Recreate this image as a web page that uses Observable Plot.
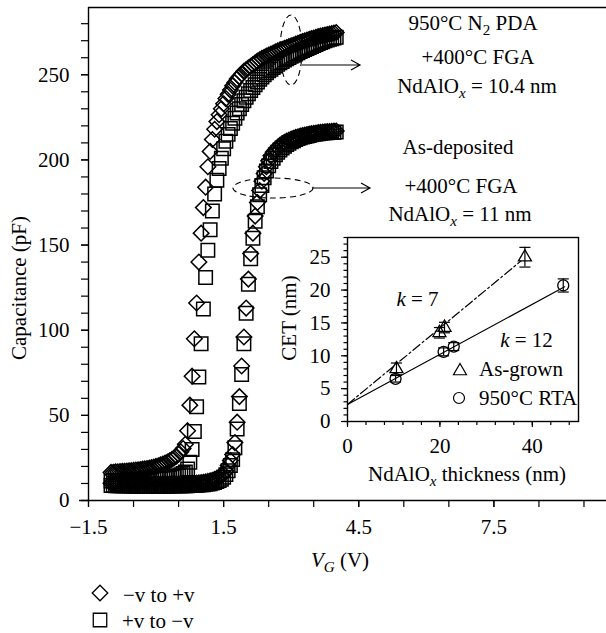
<!DOCTYPE html>
<html><head><meta charset="utf-8">
<script src="https://cdn.jsdelivr.net/npm/d3@7"></script>
<script src="https://cdn.jsdelivr.net/npm/@observablehq/plot@0.6"></script>
<style>
html,body{margin:0;padding:0;background:#fff;}
#wrap{position:relative;width:606px;height:633px;overflow:hidden;}
#wrap svg{position:absolute;}
</style></head><body><div id="wrap"></div>
<script>
// ---- main C–V data (gate voltage, V) ----
const vGate = [
 -1.00,-0.95,-0.90,-0.85,-0.80,-0.75,-0.70,-0.65,-0.60,-0.55,-0.50,-0.45,-0.40,-0.35,-0.30,-0.25,-0.20,-0.15,-0.10,-0.05,
 0.00,0.05,0.10,0.15,0.20,0.25,0.30,0.35,0.40,0.45,0.50,0.55,0.60,0.65,0.70,0.75,0.80,0.85,0.90,0.95,
 1.00,1.05,1.10,1.15,1.20,1.25,1.30,1.35,1.40,1.45,1.50,1.55,1.60,1.65,1.70,1.75,1.80,1.85,1.90,1.95,
 2.00,2.05,2.10,2.15,2.20,2.25,2.30,2.35,2.40,2.45,2.50,2.55,2.60,2.65,2.70,2.75,2.80,2.85,2.90,2.95,
 3.00,3.05,3.10,3.15,3.20,3.25,3.30,3.35,3.40,3.45,3.50,3.55,3.60,3.65,3.70,3.75,3.80,3.85,3.90,3.95,4.00];
// 950°C N2 PDA + 400°C FGA, sweep −v to +v (pF)
const pdaUp = [
 16.5,16.6,16.8,16.9,17.0,17.1,17.2,17.3,17.4,17.5,17.7,17.9,18.0,18.2,18.4,18.6,18.8,19.0,19.3,19.6,
 20.0,20.4,20.9,21.4,22.0,22.6,23.3,24.1,25.0,26.0,27.2,28.6,30.5,33,41,56,73,95,116,140,
 157,172,184,196,205,212,218,222.5,226.5,230,233,236,238.5,241,243.5,245.5,247.5,249,250.5,252,
 253,254,255,256,257,258,258.8,259.6,260.3,261,261.6,262.2,262.8,263.4,264,264.5,265,265.5,266,266.5,
 267,267.5,268,268.5,269,269.5,270,270.4,270.8,271.2,271.6,272,272.4,272.7,273,273.3,273.6,273.9,274.2,274.5,274.8];
// 950°C N2 PDA, sweep +v to −v
const pdaDown = [
 11.5,11.5,11.6,11.6,11.7,11.7,11.8,11.8,11.9,11.9,12.0,12.0,12.1,12.1,12.2,12.2,12.3,12.3,12.4,12.5,
 12.6,12.7,12.8,12.9,13.0,13.2,13.4,13.6,13.9,14.2,14.6,15.1,15.8,16.8,18.5,22.5,30,40.5,55,72.5,
 92,112.5,131,147,159,170,180,188,195,201,206.5,211,215,218.5,221.5,224.5,227.5,230,232.5,234.7,
 236.8,238.8,240.7,242.5,244.2,245.8,247.3,248.7,250,251.2,252.3,253.3,254.3,255.2,256.1,257,257.8,258.6,259.4,260.1,
 260.8,261.5,262.2,262.9,263.6,264.2,264.8,265.4,266,266.6,267.2,267.8,268.4,268.9,269.4,269.9,270.4,270.8,271.2,271.6,272];
// As-deposited + 400°C FGA, sweep −v to +v
const asdUp = [
 10.2,10.1,10.1,10.0,10.0,10.0,9.9,9.9,9.9,9.8,9.8,9.8,9.8,9.7,9.7,9.7,9.7,9.7,9.7,9.7,
 9.7,9.7,9.7,9.7,9.7,9.7,9.8,9.8,9.8,9.8,9.9,9.9,9.9,10.0,10.0,10.1,10.1,10.2,10.3,10.4,
 10.5,10.7,10.9,11.2,11.5,11.9,12.4,13.0,13.7,14.5,15.6,17.5,20.5,23.5,27,34,46,61,79,96,
 113,130,145,157,167,175,182,187.5,192,196,199.5,202.5,204.5,206,207.4,208.6,209.6,210.3,211,211.6,
 212.2,212.7,213.2,213.6,214,214.3,214.6,214.9,215.2,215.4,215.6,215.8,216,216.2,216.4,216.5,216.6,216.7,216.8,216.9,217];
// As-deposited, sweep +v to −v
const asdDown = [
 8.8,8.8,8.7,8.7,8.7,8.6,8.6,8.6,8.6,8.5,8.5,8.5,8.5,8.5,8.5,8.5,8.5,8.5,8.5,8.5,
 8.5,8.5,8.5,8.5,8.5,8.5,8.5,8.5,8.6,8.6,8.6,8.6,8.7,8.7,8.7,8.8,8.8,8.9,9.0,9.1,
 9.2,9.3,9.5,9.7,9.9,10.2,10.6,11.1,11.7,12.5,13.6,15.2,17.5,20.5,24,31,42,57,74,92,
 110,127,142,154,164,172.5,179.5,185,189.5,193.5,196.5,199,201,203,204.5,205.8,207,208,209,209.8,
 210.6,211.3,212,212.5,213,213.4,213.8,214.1,214.4,214.7,215,215.2,215.4,215.6,215.8,215.9,216,216.1,216.2,216.3,216.4];

const xTickValues = [-1.5, 1.5, 4.5, 7.5];
const xTickLabels = ["\u22121.5", "1.5", "4.5", "7.5"];
const xMinorTicks = [-1.5,-0.5,0.5,1.5,2.5,3.5,4.5,5.5,6.5,7.5,8.5,9.5];
const yTickValues = [0, 50, 100, 150, 200, 250];
const yMinorTicks = [0,10,20,30,40,50,60,70,80,90,100,110,120,130,140,150,160,170,180,190,200,210,220,230,240,250,260,270,280];

// ---- inset data: CET vs NdAlOx thickness ----
const thickGrown = [10.6, 19.9, 21.0, 38.4];
const cetGrown   = [8.0, 13.5, 14.3, 25.0];
const errGrown   = [0.9, 0.8, 0.8, 1.5];
const thickRTA   = [10.4, 20.8, 23.0, 46.7];
const cetRTA     = [6.5, 10.6, 11.4, 20.7];
const errRTA     = [0.5, 0.6, 0.6, 1.0];
const fitThickRTA = [0, 47];
const fitCetRTA   = [2.6, 20.5];
const fitThickGrown = [0, 37.5];
const fitCetGrown   = [2.6, 24.4];
const insetXTicks = [0, 20, 40];
const insetXMinor = [0,4,8,12,16,20,24,28,32,36,40,44,48];
const insetYTicks = [0, 5, 10, 15, 20, 25];
const insetYMinor = [0,1,2,3,4,5,6,7,8,9,10,11,12,13,14,15,16,17,18,19,20,21,22,23,24,25,26,27,28];

const FONT = "Liberation Serif";
const FS = 21;
const wrap = document.getElementById("wrap");

const rows = (vals) => vGate.map((v, i) => ({v, c: vals[i]}));
const dotStyle = {x: "v", y: "c", stroke: "black", fill: "none", strokeWidth: 1.5};

const main = Plot.plot({
  width: 606, height: 575,
  marginLeft: 88, marginRight: 0, marginTop: 7, marginBottom: 75,
  x: {domain: [-1.5, 10], label: null},
  y: {domain: [0, 289.5], label: null},
  style: {fontFamily: FONT, fontSize: FS + "px", background: "transparent", overflow: "visible", color: "black"},
  marks: [
    Plot.axisX({ticks: xMinorTicks, tickSize: 7, strokeWidth: 1.2, tickFormat: () => "", label: null}),
    Plot.axisX({ticks: xTickValues, tickSize: 7, tickPadding: 12, strokeWidth: 1.2, label: null,
      tickFormat: d => xTickLabels[xTickValues.indexOf(d)]}),
    Plot.axisY({ticks: yMinorTicks, tickSize: 7, strokeWidth: 1.2, tickFormat: () => "", label: null}),
    Plot.axisY({ticks: yTickValues, tickSize: 7, tickPadding: 12, strokeWidth: 1.2, label: null}),
    Plot.ruleY([0], {x1: -1.7, x2: 10, strokeWidth: 1.4}),
    Plot.ruleY([289.5], {x1: -1.5, x2: 10, strokeWidth: 1.4}),
    Plot.ruleX([-1.5], {y1: 0, y2: 289.5, strokeWidth: 1.4}),
    Plot.dot(rows(asdDown), {...dotStyle, symbol: "square", r: 7.6}),
    Plot.dot(rows(asdUp), {...dotStyle, symbol: "diamond2", r: 7}),
    Plot.dot(rows(pdaDown), {...dotStyle, symbol: "square", r: 7.6}),
    Plot.dot(rows(pdaUp), {...dotStyle, symbol: "diamond2", r: 7})
  ]
});
main.style.left = "0px"; main.style.top = "0px";
wrap.appendChild(main);

function addText(sel, x, y, parts, opts = {}) {
  const t = sel.append("text")
    .attr("x", x).attr("y", y)
    .attr("text-anchor", opts.anchor || "middle")
    .attr("font-family", FONT).attr("font-size", (opts.size || FS) + "px")
    .attr("fill", "black");
  if (opts.transform) t.attr("transform", opts.transform);
  let shift = 0;
  for (const p of parts) {
    const ts = t.append("tspan").text(p.t);
    if (p.italic) ts.attr("font-style", "italic");
    if (p.sub) { ts.attr("font-size", (FS * 0.72) + "px").attr("dy", 5 - shift); shift = 5; }
    else if (shift) { ts.attr("dy", -shift); shift = 0; }
  }
  return t;
}

const ms = d3.select(main);
// annotations
addText(ms, 473, 30, [{t: "950°C N"}, {t: "2", sub: true}, {t: " PDA"}]);
addText(ms, 478, 64, [{t: "+400°C FGA"}]);
addText(ms, 477, 93, [{t: "NdAlO"}, {t: "x", sub: true, italic: true}, {t: " = 10.4 nm"}]);
addText(ms, 458, 154, [{t: "As-deposited"}]);
addText(ms, 461, 193, [{t: "+400°C FGA"}]);
addText(ms, 460, 221, [{t: "NdAlO"}, {t: "x", sub: true, italic: true}, {t: " = 11 nm"}]);
// dashed ellipses and arrows
ms.append("ellipse").attr("cx", 291).attr("cy", 50).attr("rx", 11).attr("ry", 35)
  .attr("fill", "none").attr("stroke", "black").attr("stroke-width", 1.1).attr("stroke-dasharray", "6,4");
ms.append("ellipse").attr("cx", 273).attr("cy", 188).attr("rx", 40).attr("ry", 10)
  .attr("fill", "none").attr("stroke", "black").attr("stroke-width", 1.1).attr("stroke-dasharray", "6,4");
function arrow(x1, y, x2) {
  ms.append("path").attr("d", `M${x1},${y}H${x2}M${x2 - 9},${y - 5}L${x2},${y}L${x2 - 9},${y + 5}`)
    .attr("fill", "none").attr("stroke", "black").attr("stroke-width", 1.2);
}
arrow(302, 65, 360);
arrow(312, 188, 370);
// axis labels
addText(ms, 340, 567, [{t: "V", italic: true}, {t: "G", sub: true, italic: true}, {t: " (V)"}]);
addText(ms, 0, 0, [{t: "Capacitance (pF)"}], {transform: "translate(26,288) rotate(-90)"});

// ---- inset ----
const grown = thickGrown.map((t, i) => ({t, c: cetGrown[i], e: errGrown[i]}));
const rta = thickRTA.map((t, i) => ({t, c: cetRTA[i], e: errRTA[i]}));
const fitR = fitThickRTA.map((t, i) => ({t, c: fitCetRTA[i]}));
const fitG = fitThickGrown.map((t, i) => ({t, c: fitCetGrown[i]}));
const errMarks = (data) => [
  Plot.ruleX(data, {x: "t", y1: d => d.c - d.e, y2: d => d.c + d.e, strokeWidth: 1.2}),
  Plot.link(data, {x1: d => d.t - 1.2, x2: d => d.t + 1.2, y1: d => d.c + d.e, y2: d => d.c + d.e, strokeWidth: 1.2}),
  Plot.link(data, {x1: d => d.t - 1.2, x2: d => d.t + 1.2, y1: d => d.c - d.e, y2: d => d.c - d.e, strokeWidth: 1.2})
];
const inset = Plot.plot({
  width: 320, height: 270,
  marginLeft: 77, marginRight: 12, marginTop: 12, marginBottom: 74,
  x: {domain: [0, 50], label: null},
  y: {domain: [0, 28], label: null},
  style: {fontFamily: FONT, fontSize: FS + "px", background: "transparent", overflow: "visible", color: "black"},
  marks: [
    Plot.frame({strokeWidth: 1.4}),
    Plot.axisX({ticks: insetXMinor, tickSize: 4, strokeWidth: 1.2, tickFormat: () => "", label: null}),
    Plot.axisX({ticks: insetXTicks, tickSize: 6, tickPadding: 11, strokeWidth: 1.2, label: null}),
    Plot.axisY({ticks: insetYMinor, tickSize: 3.5, strokeWidth: 1.2, tickFormat: () => "", label: null}),
    Plot.axisY({ticks: insetYTicks, tickSize: 6, tickPadding: 11, strokeWidth: 1.2, label: null}),
    Plot.line(fitR, {x: "t", y: "c", stroke: "black", strokeWidth: 1.2}),
    Plot.line(fitG, {x: "t", y: "c", stroke: "black", strokeWidth: 1.2, strokeDasharray: "9,3,2,3"}),
    ...errMarks(grown), ...errMarks(rta),
    Plot.dot(grown, {x: "t", y: "c", symbol: "triangle2", r: 6.2, stroke: "black", fill: "none", strokeWidth: 1.3}),
    Plot.dot(rta, {x: "t", y: "c", symbol: "circle", r: 5.5, stroke: "black", fill: "none", strokeWidth: 1.3})
  ]
});
inset.style.left = "270px"; inset.style.top = "225px";
wrap.appendChild(inset);
const is = d3.select(inset);
addText(is, 147.5, 81, [{t: "k", italic: true}, {t: " = 7"}]);
addText(is, 256.5, 122, [{t: "k", italic: true}, {t: " = 12"}]);
is.append("path").attr("d", d3.symbol(d3.symbolTriangle2, 6.2 * 6.2 * Math.PI)())
  .attr("transform", "translate(190,146)").attr("fill", "none").attr("stroke", "black").attr("stroke-width", 1.2);
addText(is, 209, 151, [{t: "As-grown"}], {anchor: "start"});
is.append("circle").attr("cx", 189).attr("cy", 173).attr("r", 5.5)
  .attr("fill", "none").attr("stroke", "black").attr("stroke-width", 1.2);
addText(is, 209, 179.5, [{t: "950°C RTA"}], {anchor: "start"});
addText(is, 197, 256, [{t: "NdAlO"}, {t: "x", sub: true, italic: true}, {t: " thickness (nm)"}]);
addText(is, 0, 0, [{t: "CET (nm)"}], {transform: "translate(26,93) rotate(-90)"});

// ---- legend below the chart ----
const leg = d3.select(wrap).append("svg").attr("width", 606).attr("height", 58)
  .style("left", "0px").style("top", "575px");
leg.append("path").attr("d", d3.symbol(d3.symbolDiamond2, 7 * 7 * Math.PI)())
  .attr("transform", "translate(100,18)").attr("fill", "none").attr("stroke", "black").attr("stroke-width", 1.3);
addText(leg, 123, 26.5, [{t: "\u2212v to +v"}], {anchor: "start"});
leg.append("path").attr("d", d3.symbol(d3.symbolSquare, 7.6 * 7.6 * Math.PI)())
  .attr("transform", "translate(100,45)").attr("fill", "none").attr("stroke", "black").attr("stroke-width", 1.3);
addText(leg, 122, 53, [{t: "+v to \u2212v"}], {anchor: "start"});
</script>
</body></html>
